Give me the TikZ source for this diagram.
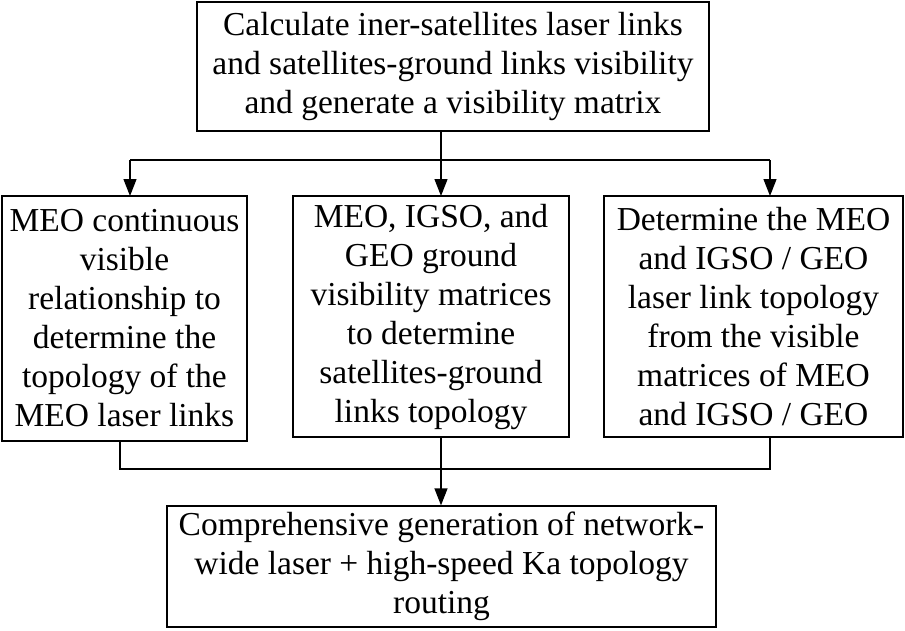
\documentclass[tikz,border=0pt]{standalone}
\usepackage{fontspec}
\setmainfont{Liberation Serif}
\usetikzlibrary{arrows.meta}
\begin{document}
\begin{tikzpicture}[x=1pt,y=-1pt,
 box/.style={draw,line width=1.3pt,align=center,inner sep=0pt,font=\fontsize{33.5}{39}\selectfont},
 ln/.style={line width=1.3pt},
 ar/.style={ln,-{Triangle[length=17pt,width=13pt]}}]
\useasboundingbox (0,0) rectangle (905,630);
\node[box,minimum width=512pt,minimum height=129pt] (top) at (453,66.5) {Calculate iner-satellites laser links\\and satellites-ground links visibility\\and generate a visibility matrix};
\node[box,minimum width=245pt,minimum height=245pt] (l) at (124.5,318.5) {MEO continuous\\visible\\relationship to\\determine the\\topology of the\\MEO laser links};
\node[box,minimum width=276pt,minimum height=241pt] (m) at (431,316.5) {MEO, IGSO, and\\GEO ground\\visibility matrices\\to determine\\satellites-ground\\links topology};
\node[box,minimum width=299pt,minimum height=241pt] (r) at (753.5,316.5) {Determine the MEO\\and IGSO / GEO\\laser link topology\\from the visible\\matrices of MEO\\and IGSO / GEO};
\node[box,minimum width=549pt,minimum height=121pt] (b) at (441.5,566.5) {Comprehensive generation of network-\\wide laser + high-speed Ka topology\\routing};
\coordinate (s) at (441,160);
\coordinate (j) at (441,469);
\draw[ln] (top.south -| s) -- (s);
\draw[ln] (130,160) -- (770,160);
\draw[ar] (130,160) -- (130,196);
\draw[ar] (s) -- (441,196);
\draw[ar] (770,160) -- (770,196);
\draw[ln] (120,441) -- (120,469) -- (770,469) -- (770,437);
\draw[ln] (441,437) -- (j);
\draw[ar] (j) -- (b.north -| j);
\end{tikzpicture}
\end{document}
